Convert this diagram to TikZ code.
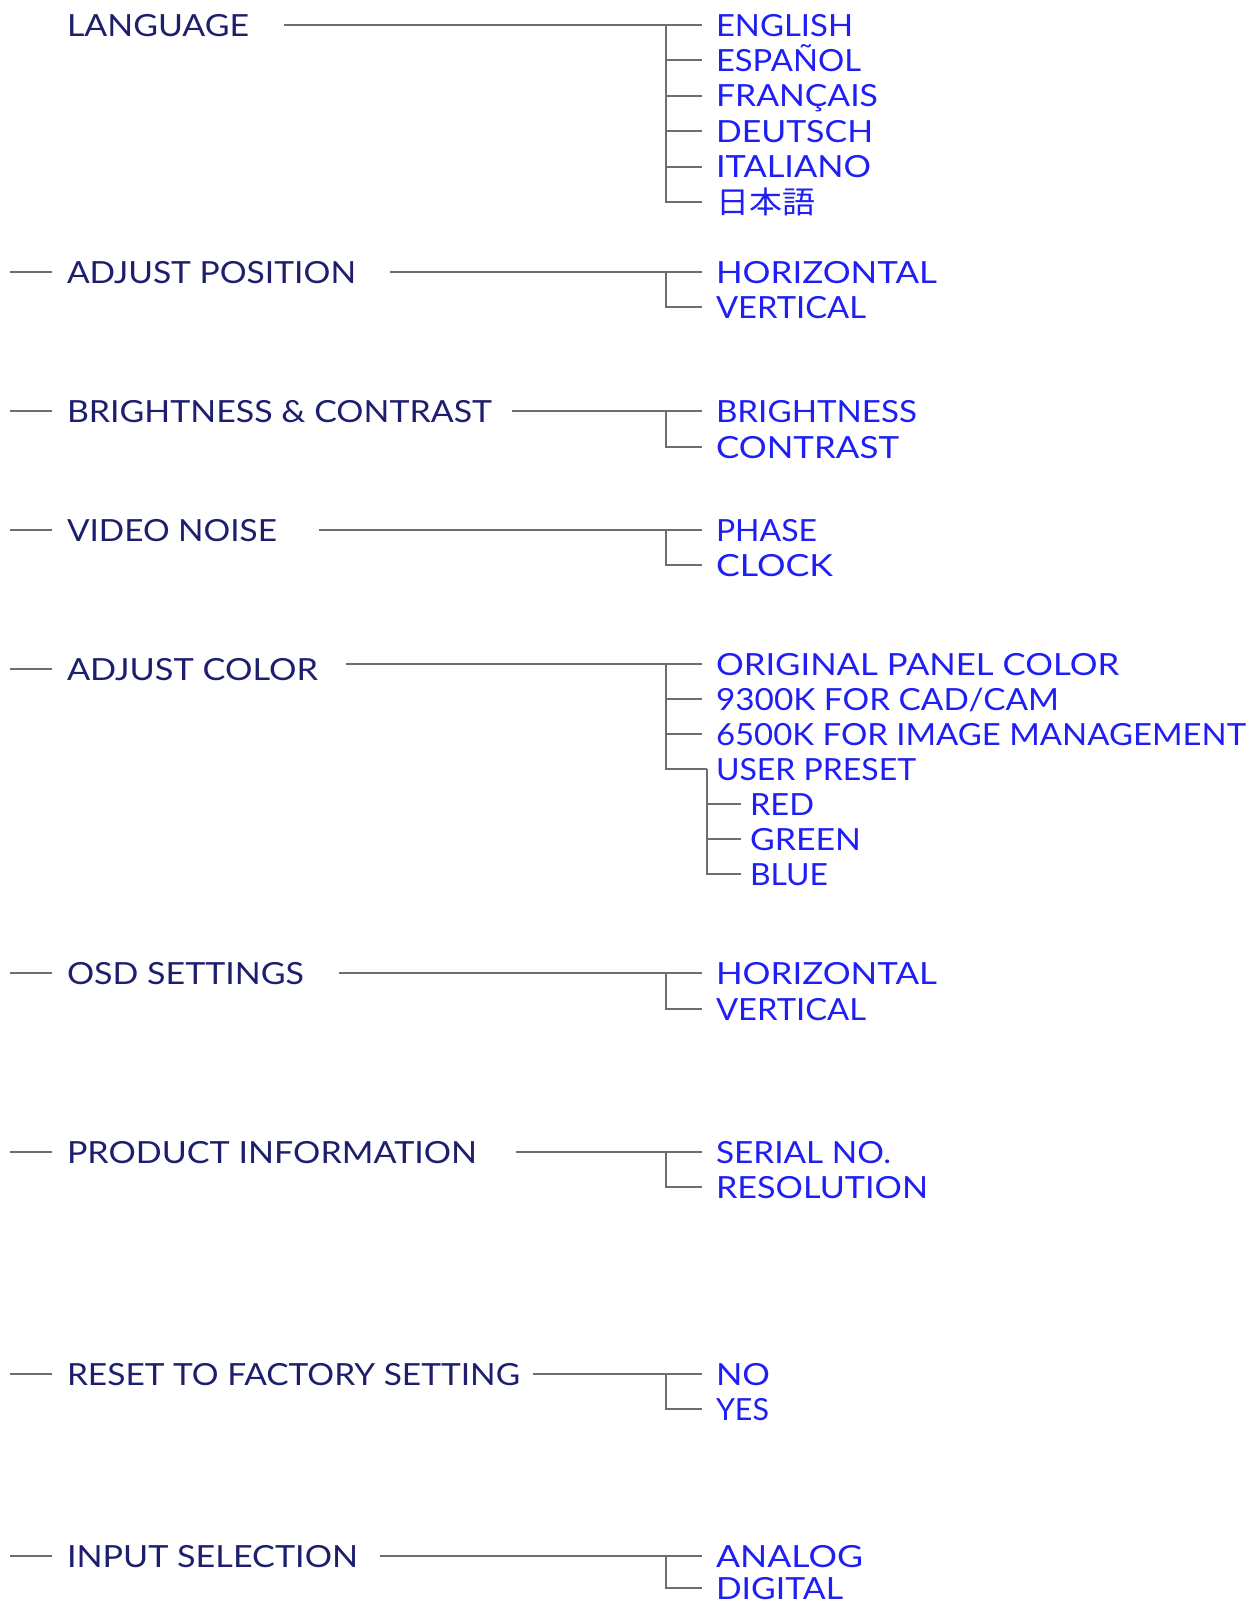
\documentclass[tikz,border=0pt]{standalone}
\usepackage{fontspec}
\usepackage{graphicx}
\setmainfont{Lato}
\newfontfamily\cjkfont{Noto Sans CJK JP}
\definecolor{parc}{RGB}{30,30,110}
\definecolor{kidc}{RGB}{30,30,245}
\definecolor{linec}{RGB}{110,110,110}
\newsavebox\fwbox
\newcommand\fw[2]{\sbox\fwbox{#2}\pgfmathsetmacro\fwr{#1/\the\wd\fwbox}\scalebox{\fwr}[1]{\usebox\fwbox}}
\tikzset{
  txt/.style={inner sep=0pt, outer sep=0pt, text height=22pt, text depth=0pt,
    font=\fontsize{30.5}{30.5}\selectfont},
  pn/.style={txt, anchor=west, text=parc},
  kn/.style={txt, anchor=west, text=kidc, outer xsep=14pt},
  skn/.style={txt, anchor=west, text=kidc, outer xsep=9pt},
  ln/.style={draw=linec, line width=2pt},
}
\begin{document}
\begin{tikzpicture}[x=1pt,y=1pt]
\useasboundingbox (0,0) rectangle (1251,-1606);

% ---------- parents ----------
\node[pn] (p1) at (67,-25)   {\fw{182}{LANGUAGE}};
\node[pn] (p2) at (67,-272)  {\fw{289}{ADJUST POSITION}};
\node[pn] (p3) at (67,-411)  {\fw{425}{BRIGHTNESS \& CONTRAST}};
\node[pn] (p4) at (67,-530)  {\fw{210}{VIDEO NOISE}};
\node[pn] (p5) at (67,-669)  {\fw{251}{ADJUST COLOR}};
\node[pn] (p6) at (67,-973)  {\fw{237}{OSD SETTINGS}};
\node[pn] (p7) at (67,-1152) {\fw{410}{PRODUCT INFORMATION}};
\node[pn] (p8) at (67,-1374) {\fw{453}{RESET TO FACTORY SETTING}};
\node[pn] (p9) at (67,-1556) {\fw{291}{INPUT SELECTION}};

% ---------- children ----------
\node[kn] (c1a) at (702,-25)    {\fw{137}{ENGLISH}};
\node[kn] (c1b) at (702,-60.4)  {\fw{145}{ESPAÑOL}};
\node[kn] (c1c) at (702,-95.8)  {\fw{162}{FRANÇAIS}};
\node[kn] (c1d) at (702,-131.2) {\fw{157}{DEUTSCH}};
\node[kn] (c1e) at (702,-166.6) {\fw{155}{ITALIANO}};
\node[kn] (c1f) at (702,-202)   {\fw{99}{\cjkfont 日本語}};

\node[kn] (c2a) at (702,-272) {\fw{221}{HORIZONTAL}};
\node[kn] (c2b) at (702,-307) {\fw{150}{VERTICAL}};

\node[kn] (c3a) at (702,-411) {\fw{201}{BRIGHTNESS}};
\node[kn] (c3b) at (702,-447) {\fw{183}{CONTRAST}};

\node[kn] (c4a) at (702,-530) {\fw{101}{PHASE}};
\node[kn] (c4b) at (702,-565) {\fw{117}{CLOCK}};

\node[kn] (c5a) at (702,-664)   {\fw{403}{ORIGINAL PANEL COLOR}};
\node[kn] (c5b) at (702,-699)   {\fw{343}{9300K FOR CAD/CAM}};
\node[kn] (c5c) at (702,-734)   {\fw{530}{6500K FOR IMAGE MANAGEMENT}};
\node[skn] (c5d) at (707,-769)  {\fw{200}{USER PRESET}};
\node[skn] (c5e) at (741,-804)  {\fw{64}{RED}};
\node[skn] (c5f) at (741,-839)  {\fw{111}{GREEN}};
\node[skn] (c5g) at (741,-874)  {\fw{78}{BLUE}};

\node[kn] (c6a) at (702,-973)  {\fw{221}{HORIZONTAL}};
\node[kn] (c6b) at (702,-1009) {\fw{150}{VERTICAL}};

\node[kn] (c7a) at (702,-1152) {\fw{175}{SERIAL NO.}};
\node[kn] (c7b) at (702,-1187) {\fw{212}{RESOLUTION}};

\node[kn] (c8a) at (702,-1374) {\fw{54}{NO}};
\node[kn] (c8b) at (702,-1409) {\fw{53}{YES}};

\node[kn] (c9a) at (702,-1556) {\fw{147}{ANALOG}};
\node[kn] (c9b) at (702,-1588) {\fw{127}{DIGITAL}};

% ---------- trunk junctions ----------
\coordinate (j1) at (666,-25);
\coordinate (j2) at (666,-272);
\coordinate (j3) at (666,-411);
\coordinate (j4) at (666,-530);
\coordinate (j5) at (666,-664);
\coordinate (j6) at (666,-973);
\coordinate (j7) at (666,-1152);
\coordinate (j8) at (666,-1374);
\coordinate (j9) at (666,-1556);

% ---------- left dashes ----------
\foreach \p in {p2,p3,p4,p5,p6,p7,p8,p9}
  \draw[ln] ([xshift=-57pt]\p.west) -- ([xshift=-15pt]\p.west);

% ---------- main lines ----------
\draw[ln, shorten <=35pt] (p1.east) -- (c1a.west);
\draw[ln, shorten <=34pt] (p2.east) -- (c2a.west);
\draw[ln, shorten <=20pt] (p3.east) -- (c3a.west);
\draw[ln, shorten <=42pt] (p4.east) -- (c4a.west);
\draw[ln, shorten <=28pt] (p5.east |- c5a.west) -- (c5a.west);
\draw[ln, shorten <=35pt] (p6.east) -- (c6a.west);
\draw[ln, shorten <=39pt] (p7.east) -- (c7a.west);
\draw[ln, shorten <=13pt] (p8.east) -- (c8a.west);
\draw[ln, shorten <=22pt] (p9.east) -- (c9a.west);

% ---------- branches ----------
\draw[ln] (j1) |- (c1b.west);
\draw[ln] (j1) |- (c1c.west);
\draw[ln] (j1) |- (c1d.west);
\draw[ln] (j1) |- (c1e.west);
\draw[ln] (j1) |- (c1f.west);
\draw[ln] (j2) |- (c2b.west);
\draw[ln] (j3) |- (c3b.west);
\draw[ln] (j4) |- (c4b.west);
\draw[ln] (j5) |- (c5b.west);
\draw[ln] (j5) |- (c5c.west);
\draw[ln] (j5) |- (c5d.west);
\draw[ln] (c5d.west) |- (c5e.west);
\draw[ln] (c5d.west) |- (c5f.west);
\draw[ln] (c5d.west) |- (c5g.west);
\draw[ln] (j6) |- (c6b.west);
\draw[ln] (j7) |- (c7b.west);
\draw[ln] (j8) |- (c8b.west);
\draw[ln] (j9) |- (c9b.west);
\end{tikzpicture}
\end{document}
